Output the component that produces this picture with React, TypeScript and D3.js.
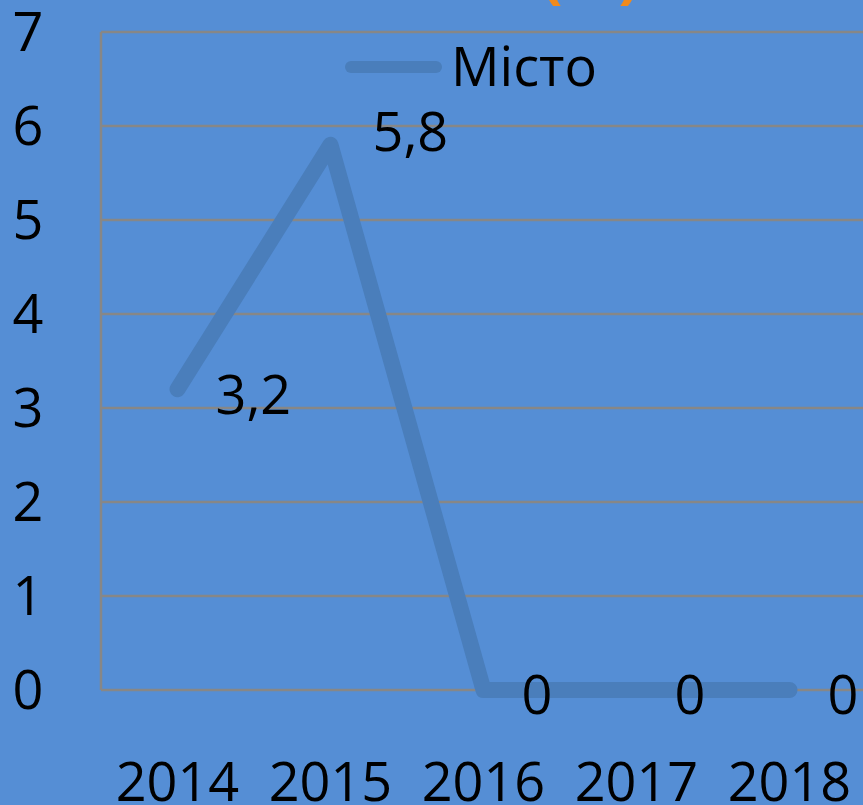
import * as d3 from "d3";
import { useEffect, useRef } from "react";

const years = ["2014", "2015", "2016", "2017", "2018"];
const values = [3.2, 5.8, 0, 0, 0];
const valueLabels = ["3,2", "5,8", "0", "0", "0"];
const yTicks = [0, 1, 2, 3, 4, 5, 6, 7];
const seriesName = "Місто";
const titleText = "ПОКАЗНИК";
const titleUnit = "(%)";

const App = () => {
    const ref = useRef<SVGSVGElement | null>(null);

    const renderGraph = () => {
        const width = 863;
        const height = 805;
        const margin = { top: 32, right: -3, bottom: 115, left: 101 };
        const bg = "#558ed5";
        const lineColor = "#4a7ebb";
        const gridColor = "#878787";
        const font = "'Open Sans', Lato, sans-serif";
        const fontSize = 54;

        const svg = d3.select(ref.current);
        svg.selectChildren().remove();
        svg.attr("width", width).attr("height", height);

        svg.append("rect")
            .attr("width", width)
            .attr("height", height)
            .attr("fill", bg);

        const x = d3.scaleBand()
            .domain(years)
            .range([margin.left, width - margin.right]);

        const y = d3.scaleLinear()
            .domain([0, 7])
            .range([height - margin.bottom, margin.top]);

        // Title, almost entirely above the top edge
        const title = svg.append("text")
            .attr("x", 238)
            .attr("y", -4)
            .attr("font-family", font)
            .attr("font-weight", "bold")
            .attr("font-size", 50)
            .attr("fill", "#3a3a3a");
        title.append("tspan").text(titleText + " ");
        title.append("tspan").attr("fill", "#f08a1c").attr("font-size", 62).text(titleUnit);

        // Gridlines
        svg.append("g")
            .selectAll("line")
            .data(yTicks)
            .join("line")
            .attr("x1", margin.left)
            .attr("x2", width)
            .attr("y1", d => y(d))
            .attr("y2", d => y(d))
            .attr("stroke", gridColor)
            .attr("stroke-width", 2.5);

        // Left axis line
        svg.append("line")
            .attr("x1", margin.left)
            .attr("x2", margin.left)
            .attr("y1", y(7))
            .attr("y2", y(0))
            .attr("stroke", gridColor)
            .attr("stroke-width", 2.5);

        // Y tick labels
        svg.append("g")
            .selectAll("text")
            .data(yTicks)
            .join("text")
            .attr("x", 28)
            .attr("y", d => y(d))
            .attr("dy", "0.36em")
            .attr("text-anchor", "middle")
            .attr("font-family", font)
            .attr("font-size", fontSize)
            .attr("fill", "#000")
            .text(d => d);

        // X labels
        svg.append("g")
            .selectAll("text")
            .data(years)
            .join("text")
            .attr("x", d => x(d)! + x.bandwidth() / 2)
            .attr("y", 801)
            .attr("text-anchor", "middle")
            .attr("font-family", font)
            .attr("font-size", fontSize)
            .attr("fill", "#000")
            .text(d => d);

        // Line
        const line = d3.line<number>()
            .x((d, i) => x(years[i])! + x.bandwidth() / 2)
            .y(d => y(d));

        svg.append("path")
            .datum(values)
            .attr("fill", "none")
            .attr("stroke", lineColor)
            .attr("stroke-width", 16)
            .attr("stroke-linecap", "round")
            .attr("stroke-linejoin", "round")
            .attr("d", line);

        // Data labels, right of the point; the peak one sits a bit higher
        const maxValue = d3.max(values)!;
        svg.append("g")
            .selectAll("text")
            .data(values)
            .join("text")
            .attr("x", (d, i) => x(years[i])! + x.bandwidth() / 2 + (d === maxValue ? 42 : 38))
            .attr("y", d => y(d) + (d === maxValue ? -13 : 5))
            .attr("dy", "0.36em")
            .attr("font-family", font)
            .attr("font-size", fontSize)
            .attr("fill", "#000")
            .text((d, i) => valueLabels[i]);

        // Legend
        svg.append("line")
            .attr("x1", 351)
            .attr("x2", 436)
            .attr("y1", 67)
            .attr("y2", 67)
            .attr("stroke", lineColor)
            .attr("stroke-width", 12)
            .attr("stroke-linecap", "round");

        svg.append("text")
            .attr("x", 451)
            .attr("y", 67)
            .attr("dy", "0.36em")
            .attr("font-family", font)
            .attr("font-size", fontSize)
            .attr("fill", "#000")
            .text(seriesName);
    };

    useEffect(() => {
        renderGraph();
    });

    return (
        <svg ref={ref} style={{ position: "absolute", left: 0, top: 0, display: "block" }} />
    );
};

export default App;
